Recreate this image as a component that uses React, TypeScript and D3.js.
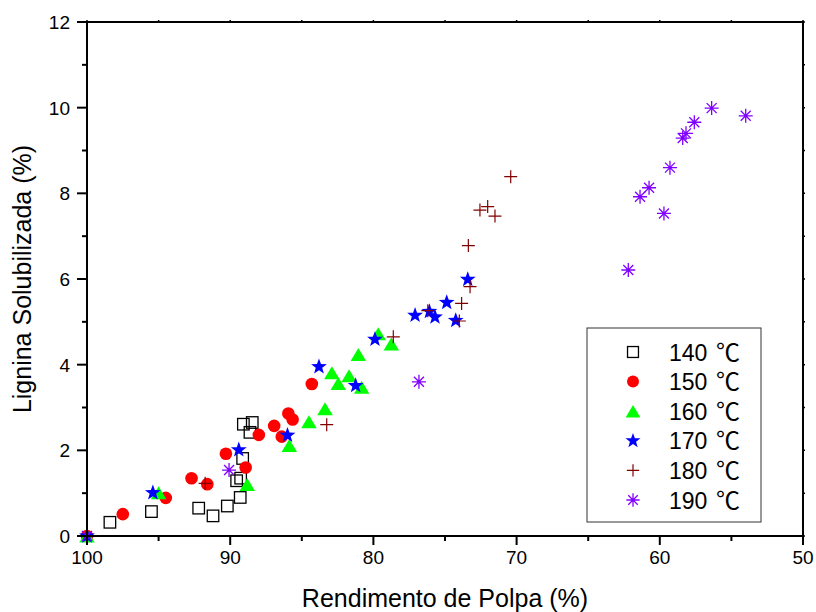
import React from "react";
import * as d3 from "d3";

const series140: [number, number][] = [
  [98.4, 0.32], [95.5, 0.57], [92.2, 0.65], [91.2, 0.47], [90.2, 0.7], [89.3, 0.9],
  [89.55, 1.29], [89.27, 1.35], [89.13, 1.81], [89.08, 2.61], [88.46, 2.65], [88.62, 2.42],
];
const series150: [number, number][] = [
  [100, 0], [97.5, 0.51], [94.5, 0.89], [92.7, 1.35], [91.6, 1.21], [90.3, 1.92], [88.92, 1.6],
  [88.0, 2.36], [86.93, 2.57], [86.4, 2.32], [85.94, 2.86], [85.64, 2.72], [84.3, 3.55],
];
const series160: [number, number][] = [
  [100, 0], [95.0, 1.01], [88.81, 1.2], [85.87, 2.11], [84.5, 2.67], [83.38, 2.97], [82.9, 3.81],
  [82.45, 3.56], [81.7, 3.74], [80.82, 3.47], [81.05, 4.24], [79.66, 4.72], [78.75, 4.48],
];
const series170: [number, number][] = [
  [100, 0], [95.4, 1.01], [89.4, 2.01], [86.0, 2.35], [83.8, 3.95], [81.24, 3.51], [79.89, 4.59],
  [77.09, 5.15], [76.09, 5.24], [75.7, 5.11], [74.88, 5.45], [74.25, 5.03], [73.41, 5.99],
];
const series180: [number, number][] = [
  [100, 0], [91.75, 1.23], [83.26, 2.6], [78.61, 4.65], [76.2, 5.26], [74.0, 5.02], [73.84, 5.43],
  [73.25, 5.82], [73.37, 6.78], [72.56, 7.61], [72.02, 7.69], [71.51, 7.47], [70.41, 8.39],
];
const series190: [number, number][] = [
  [100, 0], [90.08, 1.54], [76.82, 3.6], [62.2, 6.21], [61.38, 7.92], [60.75, 8.13], [59.71, 7.53],
  [59.29, 8.6], [58.4, 9.29], [58.17, 9.4], [57.59, 9.66], [56.38, 9.99], [54.0, 9.81],
];

const legendTemps = ["140", "150", "160", "170", "180", "190"];
const legendUnit = "\u2103";
const xMajor = [100, 90, 80, 70, 60, 50];
const xMinor = [95, 85, 75, 65, 55];
const yMajor = [0, 2, 4, 6, 8, 10, 12];
const yMinor = [1, 3, 5, 7, 9, 11];

const W = 816, H = 612;
const L = 87, R = 803, T = 22, B = 536;
const FONT = "'Liberation Sans', Arial, 'DejaVu Sans', sans-serif";
const CJK = "'Noto Sans CJK SC', 'Noto Sans CJK JP', sans-serif";

type Kind = "square" | "circle" | "triangle" | "star" | "plus" | "asterisk";

function Marker({ kind, x, y, s = 1 }: { kind: Kind; x: number; y: number; s?: number }) {
  const t = `translate(${x},${y})`;
  if (kind === "square") {
    const a = 11.5 * s;
    return <rect x={x - a / 2} y={y - a / 2} width={a} height={a} fill="none" stroke="#000" strokeWidth={1.3} />;
  }
  if (kind === "circle") return <circle cx={x} cy={y} r={6.3 * s} fill="#ff0000" />;
  if (kind === "triangle") {
    const w = 15.5 * s, h = 13 * s;
    return <path transform={t} d={`M0,${-h / 2}L${w / 2},${h / 2}L${-w / 2},${h / 2}Z`} fill="#00ff00" />;
  }
  if (kind === "star") {
    const ro = 8.3 * s, ri = 3.4 * s;
    const pts: string[] = [];
    for (let i = 0; i < 10; i++) {
      const ang = -Math.PI / 2 + (i * Math.PI) / 5;
      const r = i % 2 === 0 ? ro : ri;
      pts.push(`${r * Math.cos(ang)},${r * Math.sin(ang)}`);
    }
    return <path transform={t} d={`M${pts.join("L")}Z`} fill="#0000ff" />;
  }
  if (kind === "plus") {
    const a = 6.5 * s;
    return <path transform={t} d={`M${-a},0H${a}M0,${-a}V${a}`} stroke="#800000" strokeWidth={1.2} fill="none" />;
  }
  const a = 7 * s, d = 5 * s;
  return (
    <path transform={t} d={`M${-a},0H${a}M0,${-a}V${a}M${-d},${-d}L${d},${d}M${-d},${d}L${d},${-d}`}
      stroke="#8000ff" strokeWidth={1.3} fill="none" />
  );
}

export default function App() {
  const x = d3.scaleLinear().domain([100, 50]).range([L, R]);
  const y = d3.scaleLinear().domain([0, 12]).range([B, T]);

  const groups: { kind: Kind; data: [number, number][] }[] = [
    { kind: "square", data: series140 },
    { kind: "circle", data: series150 },
    { kind: "triangle", data: series160 },
    { kind: "star", data: series170 },
    { kind: "plus", data: series180 },
    { kind: "asterisk", data: series190 },
  ];

  const legX = 587, legY = 328, legW = 174, legH = 194;
  const rowY = (i: number) => 352 + i * 29.6;

  return (
    <svg width={W} height={H} style={{ position: "absolute", left: 0, top: 0, background: "#fff" }} fontFamily={FONT}>
      <rect x={0} y={0} width={W} height={H} fill="#fff" />
      {groups.map((g, gi) => (
        <g key={gi}>
          {g.data.map((p, i) => (
            <Marker key={i} kind={g.kind} x={x(p[0])} y={y(p[1])} />
          ))}
        </g>
      ))}
      <rect x={L} y={T} width={R - L} height={B - T} fill="none" stroke="#000" strokeWidth={2} />
      {xMajor.map((v) => (
        <g key={"xm" + v}>
          <line x1={x(v)} x2={x(v)} y1={B} y2={B + 9} stroke="#000" strokeWidth={2} />
          <line x1={x(v)} x2={x(v)} y1={T} y2={T - 2} stroke="#000" strokeWidth={1.5} />
          <text x={x(v)} y={B + 28} textAnchor="middle" fontSize={19} fill="#000">{v}</text>
        </g>
      ))}
      {xMinor.map((v) => (
        <g key={"xn" + v}>
          <line x1={x(v)} x2={x(v)} y1={B} y2={B + 5} stroke="#000" strokeWidth={2} />
          <line x1={x(v)} x2={x(v)} y1={T} y2={T - 2} stroke="#000" strokeWidth={1.5} />
        </g>
      ))}
      {yMajor.map((v) => (
        <g key={"ym" + v}>
          <line x1={L} x2={L - 10} y1={y(v)} y2={y(v)} stroke="#000" strokeWidth={2} />
          <line x1={R} x2={R + 2} y1={y(v)} y2={y(v)} stroke="#000" strokeWidth={1.5} />
          <text x={70} y={y(v) + 7} textAnchor="end" fontSize={19} fill="#000">{v}</text>
        </g>
      ))}
      {yMinor.map((v) => (
        <g key={"yn" + v}>
          <line x1={L} x2={L - 5} y1={y(v)} y2={y(v)} stroke="#000" strokeWidth={2} />
          <line x1={R} x2={R + 2} y1={y(v)} y2={y(v)} stroke="#000" strokeWidth={1.5} />
        </g>
      ))}
      <text x={(L + R) / 2} y={607} textAnchor="middle" fontSize={25} fill="#000">Rendimento de Polpa (%)</text>
      <text transform={`translate(31,${(T + B) / 2}) rotate(-90)`} textAnchor="middle" fontSize={25} fill="#000">
        Lignina Solubilizada (%)
      </text>
      <rect x={legX} y={legY} width={legW} height={legH} fill="#fff" stroke="#333" strokeWidth={1} />
      {groups.map((g, i) => (
        <g key={"lg" + i}>
          <Marker kind={g.kind} x={633} y={rowY(i)} s={0.95} />
          <text x={669} y={rowY(i) + 8.5} fontSize={23} fill="#000">
            {legendTemps[i] + " "}
            <tspan x={716} fontSize={24} fontFamily={CJK}>{legendUnit}</tspan>
          </text>
        </g>
      ))}
    </svg>
  );
}
